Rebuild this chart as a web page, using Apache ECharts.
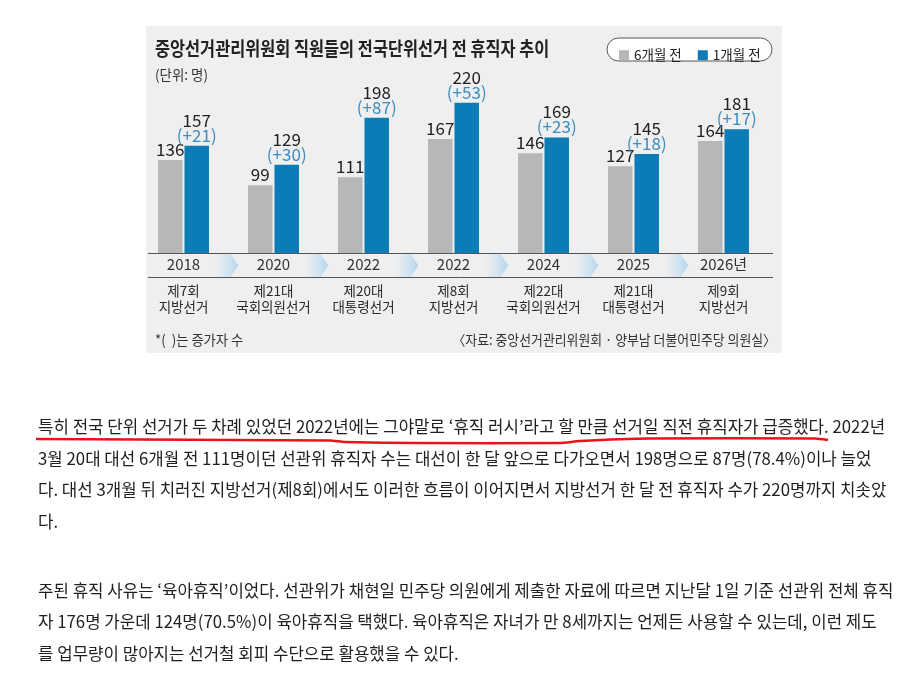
<!DOCTYPE html>
<html>
<head>
<meta charset="utf-8">
<script src="https://cdn.jsdelivr.net/npm/echarts@6/dist/echarts.min.js"></script>
<style>
  html, body { margin: 0; padding: 0; background: #fff; }
  #main { width: 907px; height: 699px; }
</style>
</head>
<body>
<div id="main"></div>
<script>
// 데이터
var years = ['2018', '2020', '2022', '2022', '2024', '2025', '2026년'];
var elections = [
  ['제7회', '지방선거'],
  ['제21대', '국회의원선거'],
  ['제20대', '대통령선거'],
  ['제8회', '지방선거'],
  ['제22대', '국회의원선거'],
  ['제21대', '대통령선거'],
  ['제9회', '지방선거']
];
var sixMonths = [136, 99, 111, 167, 146, 127, 164];
var oneMonth = [157, 129, 198, 220, 169, 145, 181];
var increase = [21, 30, 87, 53, 23, 18, 17];

var title = '중앙선거관리위원회 직원들의 전국단위선거 전 휴직자 추이';
var unitText = '(단위: 명)';
var noteText = '*(  )는 증가자 수';
var sourceText = '〈자료: 중앙선거관리위원회 · 양부남 더불어민주당 의원실〉';

var article = [
  '특히 전국 단위 선거가 두 차례 있었던 2022년에는 그야말로 ‘휴직 러시’라고 할 만큼 선거일 직전 휴직자가 급증했다. 2022년',
  '3월 20대 대선 6개월 전 111명이던 선관위 휴직자 수는 대선이 한 달 앞으로 다가오면서 198명으로 87명(78.4%)이나 늘었',
  '다. 대선 3개월 뒤 치러진 지방선거(제8회)에서도 이러한 흐름이 이어지면서 지방선거 한 달 전 휴직자 수가 220명까지 치솟았',
  '다.',
  '주된 휴직 사유는 ‘육아휴직’이었다. 선관위가 채현일 민주당 의원에게 제출한 자료에 따르면 지난달 1일 기준 선관위 전체 휴직',
  '자 176명 가운데 124명(70.5%)이 육아휴직을 택했다. 육아휴직은 자녀가 만 8세까지는 언제든 사용할 수 있는데, 이런 제도',
  '를 업무량이 많아지는 선거철 회피 수단으로 활용했을 수 있다.'
];
var articleY = [427, 459, 490, 522, 591, 622, 654];

var NARROW = "'Liberation Sans Narrow', 'Noto Sans CJK KR', sans-serif";
var KR = "'Noto Sans CJK KR', sans-serif";

var chart = echarts.init(document.getElementById('main'));

chart.setOption({
  animation: false,
  backgroundColor: '#fff',
  grid: { left: 138.5, right: 907 - 768.5, top: 89, bottom: 699 - 253 },
  legend: {
    data: ['6개월 전', '1개월 전'],
    left: 614,
    top: 43.5,
    icon: 'rect',
    itemWidth: 10,
    itemHeight: 10,
    itemGap: 16,
    textStyle: { fontSize: 13.5, color: '#222', fontFamily: KR }
  },
  xAxis: {
    type: 'category',
    data: years,
    axisLine: { show: false },
    axisTick: { show: false },
    axisLabel: {
      interval: 0,
      margin: 0,
      formatter: function (v, i) {
        return '{y|' + v + '}\n{g| }\n{k|' + elections[i][0] + '}\n{k|' + elections[i][1] + '}';
      },
      rich: {
        y: { fontSize: 15, fontFamily: NARROW, color: '#333', lineHeight: 22 },
        g: { fontSize: 8, lineHeight: 8 },
        k: { fontSize: 13.5, fontFamily: KR, color: '#2a2a2a', lineHeight: 16 }
      }
    }
  },
  yAxis: { type: 'value', min: 0, max: 240, show: false, splitLine: { show: false } },
  series: [
    {
      name: '6개월 전',
      type: 'bar',
      data: sixMonths,
      barWidth: 24.5,
      barGap: '8%',
      itemStyle: { color: '#b6b7b9' },
      label: { show: true, position: 'top', distance: 2, color: '#222', fontSize: 17, fontFamily: NARROW },
      silent: true
    },
    {
      name: '1개월 전',
      type: 'bar',
      data: oneMonth,
      barWidth: 24.5,
      itemStyle: { color: '#0b7cb5' },
      label: {
        show: true,
        position: 'top',
        distance: 3,
        formatter: function (p) {
          return '{v|' + p.value + '}\n{d|(+' + increase[p.dataIndex] + ')}';
        },
        rich: {
          v: { fontSize: 17, fontFamily: NARROW, color: '#222', lineHeight: 15 },
          d: { fontSize: 17, fontFamily: NARROW, color: '#3b8dc2', lineHeight: 15 }
        }
      },
      silent: true
    }
  ]
});

// 배경, 제목, 범례 상자, 띠, 화살표, 본문
var els = [];
els.push({ type: 'rect', z: -10, shape: { x: 146, y: 26, width: 636, height: 327 }, style: { fill: '#efefef' } });
els.push({ type: 'text', x: 155, y: 49, scaleX: 0.86, style: { text: title, font: 'bold 19px ' + KR, fill: '#222', verticalAlign: 'middle' } });
els.push({ type: 'text', x: 155, y: 75, scaleX: 0.96, style: { text: unitText, font: '14px ' + KR, fill: '#333', verticalAlign: 'middle' } });
els.push({ type: 'text', x: 155, y: 340, scaleX: 0.95, style: { text: noteText, font: '14px ' + KR, fill: '#333', verticalAlign: 'middle' } });
els.push({ type: 'text', x: 776, y: 340, scaleX: 0.92, style: { text: sourceText, font: '14px ' + KR, fill: '#333', align: 'right', verticalAlign: 'middle' } });
els.push({ type: 'rect', z: -1, shape: { x: 607, y: 38, width: 165, height: 23, r: 11.5 }, style: { fill: '#fff', stroke: '#555', lineWidth: 1 } });
els.push({ type: 'line', shape: { x1: 148, y1: 253.5, x2: 773, y2: 253.5 }, style: { stroke: '#555', lineWidth: 1 } });
els.push({ type: 'line', shape: { x1: 148, y1: 277.5, x2: 773, y2: 277.5 }, style: { stroke: '#555', lineWidth: 1 } });

for (var i = 0; i < years.length - 1; i++) {
  var b = (chart.convertToPixel({ xAxisIndex: 0 }, i) + chart.convertToPixel({ xAxisIndex: 0 }, i + 1)) / 2;
  els.push({
    type: 'polygon',
    z: -5,
    shape: { points: [[b - 14, 254], [b + 2, 254], [b + 10, 265.5], [b + 2, 277], [b - 14, 277]] },
    style: {
      fill: new echarts.graphic.LinearGradient(0, 0, 1, 0, [
        { offset: 0, color: 'rgba(200,225,242,0)' },
        { offset: 1, color: '#b2d5ee' }
      ])
    }
  });
}

article.forEach(function (line, k) {
  els.push({ type: 'text', x: 38, y: articleY[k], style: { text: line, font: '16.8px ' + KR, fill: '#1f1f1f', verticalAlign: 'middle' } });
});

// 빨간 밑줄
els.push({
  type: 'polyline',
  shape: { points: [[36, 439], [330, 440.5], [345, 442], [420, 443], [560, 443], [580, 441], [650, 438.5], [815, 438.5], [828, 440]], smooth: 0.2 },
  style: { stroke: '#e8141b', lineWidth: 2.5, fill: null }
});

chart.setOption({ graphic: { elements: els } });
</script>
</body>
</html>
